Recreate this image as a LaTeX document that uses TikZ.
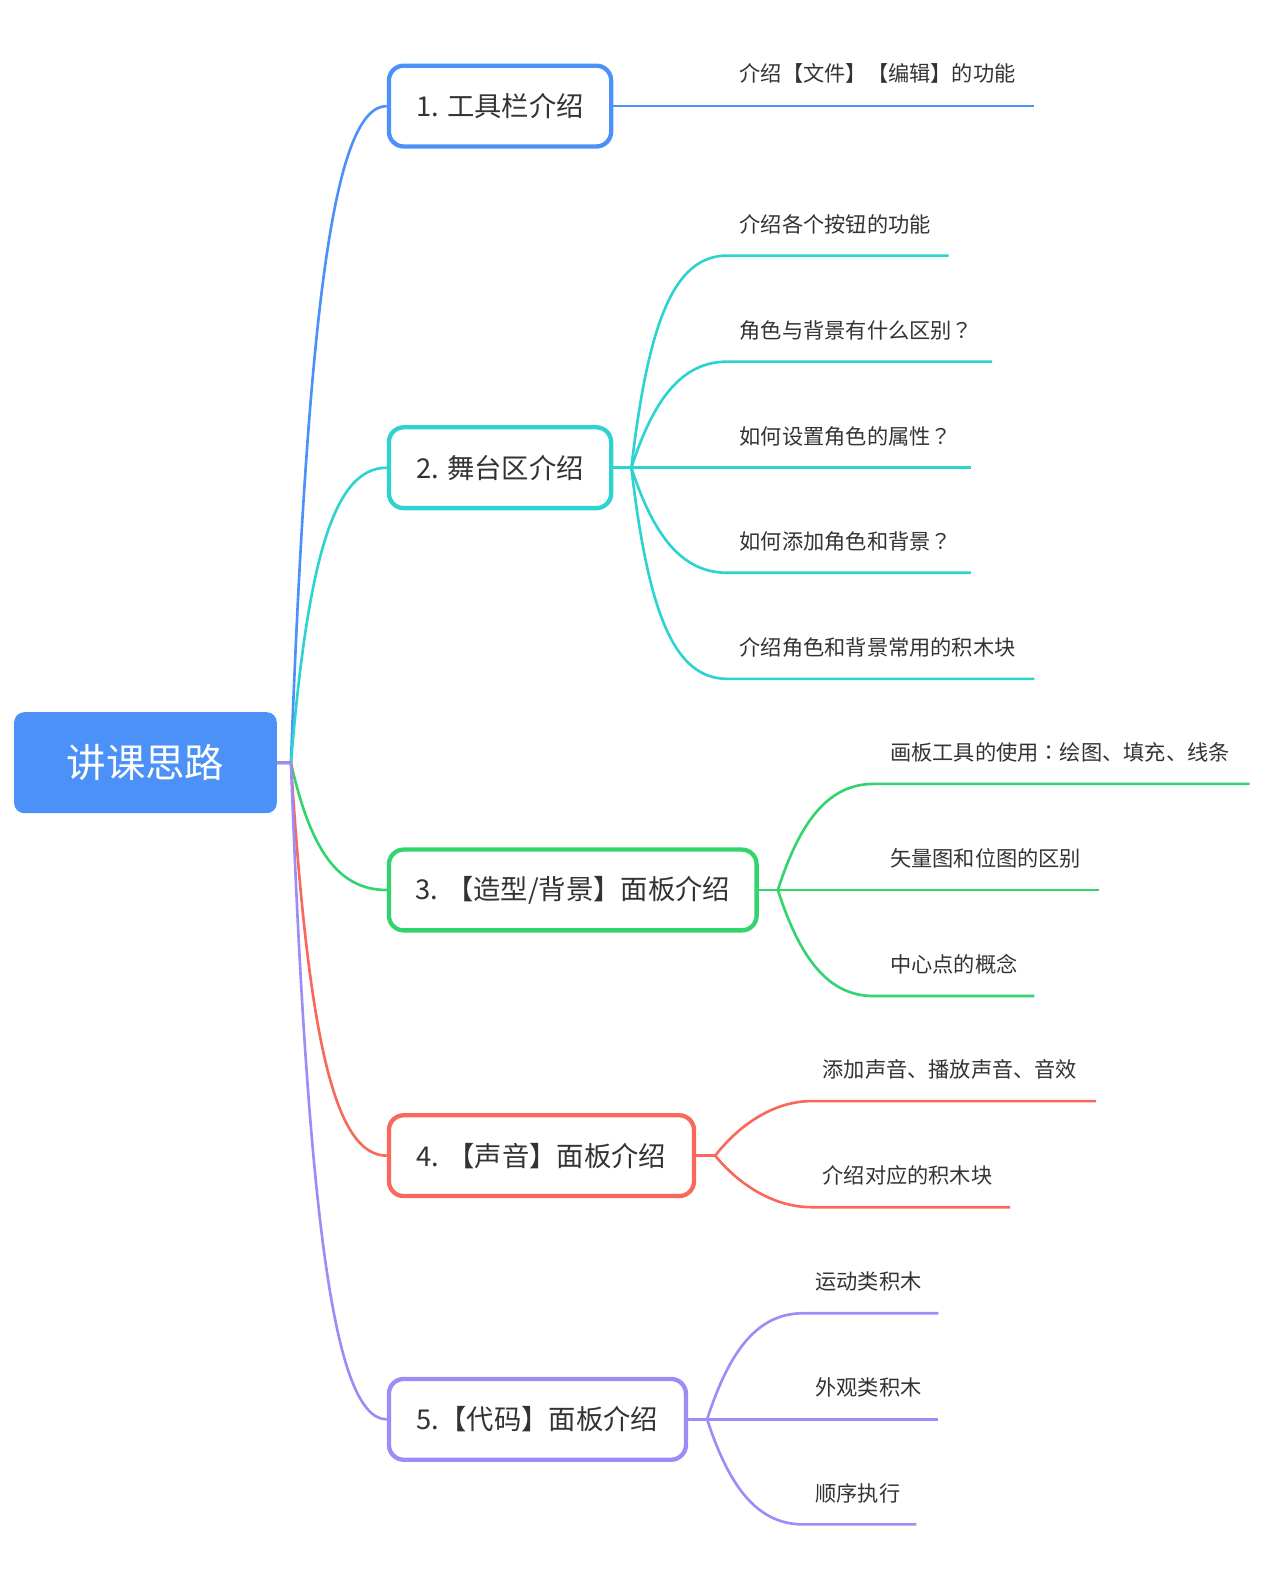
\documentclass[tikz,border=0pt]{standalone}
\usepackage{fontspec}
\setmainfont{Noto Sans CJK SC}
\newfontfamily\tcpunct{Noto Sans CJK TC}
\newcommand{\fwq}{{\tcpunct ？}}
\newcommand{\fwc}{{\tcpunct ：}}
\definecolor{cblue}{HTML}{4B91F8}
\definecolor{ccyan}{HTML}{2CD3D0}
\definecolor{cgreen}{HTML}{33D46E}
\definecolor{cred}{HTML}{F8695C}
\definecolor{cpurple}{HTML}{9C8CF6}
\definecolor{textgray}{HTML}{333333}
\begin{document}
\begin{tikzpicture}[x=0.75pt,y=-0.75pt,
  rootbox/.style={fill=cblue, rounded corners=7.5pt, minimum width=195pt, minimum height=75pt, inner sep=0pt, text=white, font=\fontsize{29.3pt}{34pt}\selectfont},
  branchbox/.style={draw=#1, line width=3.2pt, rounded corners=11pt, minimum height=60pt, inner sep=0pt, fill=white, text=textgray, font=\fontsize{20.3pt}{24pt}\selectfont},
  leaftext/.style={anchor=west, inner sep=0pt, text=textgray, font=\fontsize{15.75pt}{18pt}\selectfont},
  link/.style={draw=#1, line width=1.95pt}]
\useasboundingbox (0,0) rectangle (1268,1570);

% root and branches
\node[rootbox] (root) at (144,755) {讲课思路};
\node[branchbox=cblue, minimum width=165pt] (b1) at (495,105) {1. 工具栏介绍};
\node[branchbox=ccyan, minimum width=165pt] (b2) at (495,463) {2. 舞台区介绍};
\node[branchbox=cgreen, minimum width=273pt] (b3) at (567,881) {3. 【造型/背景】面板介绍};
\node[branchbox=cred, minimum width=226.5pt] (b4) at (536,1144) {4. 【声音】面板介绍};
\node[branchbox=cpurple, minimum width=220.5pt] (b5) at (532,1405) {5.【代码】面板介绍};

\coordinate (rh) at (288,755);
\draw[link=cblue] (root.east) -- (rh) .. controls (305,300) and (331,105) .. (b1.west);
\draw[link=ccyan] (root.east) -- (rh) .. controls (305,550.6) and (331,463) .. (b2.west);
\draw[link=cgreen] (root.east) -- (rh) .. controls (307,840) and (334,881) .. (b3.west);
\draw[link=cred] (root.east) -- (rh) .. controls (305,1027.3) and (331,1144) .. (b4.west);
\draw[link=cpurple] (root.east) -- (rh) .. controls (305,1210) and (331,1405) .. (b5.west);

% branch 1
\node[leaftext] (l11) at (732,73) {介绍【文件】【编辑】的功能};
\coordinate (e11) at (1024,105);
\draw[link=cblue] (b1.east) -- (e11);

% branch 2
\coordinate (h2) at (625,463);
\node[leaftext] (l21) at (732,222) {介绍各个按钮的功能};
\node[leaftext] (l22) at (732,327) {角色与背景有什么区别\fwq};
\node[leaftext] (l23) at (732,432) {如何设置角色的属性\fwq};
\node[leaftext] (l24) at (732,536) {如何添加角色和背景\fwq};
\node[leaftext] (l25) at (732,641) {介绍角色和背景常用的积木块};
\coordinate (c21) at (720,253); \coordinate (e21) at (939,253);
\coordinate (c22) at (720,358); \coordinate (e22) at (982,358);
\coordinate (e23) at (961,463);
\coordinate (c24) at (720,567); \coordinate (e24) at (961,567);
\coordinate (c25) at (720,672); \coordinate (e25) at (1024,672);
\draw[link=ccyan] (b2.east) -- (h2);
\draw[link=ccyan] (h2) .. controls (642,316) and (668,253) .. (c21) -- (e21);
\draw[link=ccyan] (h2) .. controls (647,394.75) and (675,358) .. (c22) -- (e22);
\draw[link=ccyan] (h2) -- (e23);
\draw[link=ccyan] (h2) .. controls (647,530.6) and (675,567) .. (c24) -- (e24);
\draw[link=ccyan] (h2) .. controls (642,609.3) and (668,672) .. (c25) -- (e25);

% branch 3
\coordinate (h3) at (770,881);
\node[leaftext] (l31) at (881,745) {画板工具的使用\fwc 绘图、填充、线条};
\node[leaftext] (l32) at (881,850) {矢量图和位图的区别};
\node[leaftext] (l33) at (881,955) {中心点的概念};
\coordinate (c31) at (865,776); \coordinate (e31) at (1237,776);
\coordinate (e32) at (1088,881);
\coordinate (c33) at (865,986); \coordinate (e33) at (1024,986);
\draw[link=cgreen] (b3.east) -- (h3);
\draw[link=cgreen] (h3) .. controls (792,812.75) and (820,776) .. (c31) -- (e31);
\draw[link=cgreen] (h3) -- (e32);
\draw[link=cgreen] (h3) .. controls (792,949.25) and (820,986) .. (c33) -- (e33);

% branch 4
\coordinate (h4) at (708,1144);
\node[leaftext] (l41) at (814,1059) {添加声音、播放声音、音效};
\node[leaftext] (l42) at (814,1164) {介绍对应的积木块};
\coordinate (c41) at (803,1090); \coordinate (e41) at (1085,1090);
\coordinate (c42) at (803,1195); \coordinate (e42) at (1000,1195);
\draw[link=cred] (b4.east) -- (h4);
\draw[link=cred] (h4) .. controls (733,1111.6) and (768,1090) .. (c41) -- (e41);
\draw[link=cred] (h4) .. controls (733,1174.6) and (768,1195) .. (c42) -- (e42);

% branch 5
\coordinate (h5) at (700,1405);
\node[leaftext] (l51) at (807,1269) {运动类积木};
\node[leaftext] (l52) at (807,1373) {外观类积木};
\node[leaftext] (l53) at (807,1478) {顺序执行};
\coordinate (c51) at (795,1300); \coordinate (e51) at (929,1300);
\coordinate (e52) at (929,1405);
\coordinate (c53) at (795,1509); \coordinate (e53) at (907,1509);
\draw[link=cpurple] (b5.east) -- (h5);
\draw[link=cpurple] (h5) .. controls (722,1336.75) and (750,1300) .. (c51) -- (e51);
\draw[link=cpurple] (h5) -- (e52);
\draw[link=cpurple] (h5) .. controls (722,1472.6) and (750,1509) .. (c53) -- (e53);
\end{tikzpicture}
\end{document}
